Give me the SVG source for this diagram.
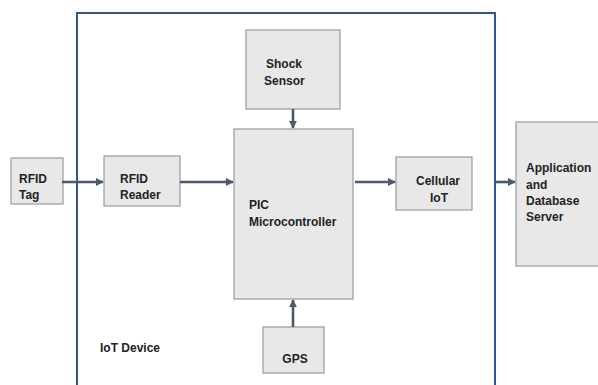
<svg xmlns="http://www.w3.org/2000/svg" width="598" height="385" viewBox="0 0 598 385">
  <style>
    .box { fill: #e8e8e8; stroke: #9a9a9a; stroke-width: 1.2; }
    .lbl { font-family: "Liberation Sans", Arial, sans-serif; font-size: 12px; font-weight: bold; fill: #222222; }
    .wire { stroke: #4a5a72; stroke-width: 2.6; fill: none; marker-end: url(#arrow); }
    .frame { stroke: #2f5597; stroke-width: 2; fill: none; }
  </style>
  <defs>
    <marker id="arrow" viewBox="0 0 10 10" refX="9" refY="5" markerWidth="3" markerHeight="3" orient="auto" markerUnits="strokeWidth">
      <path d="M0,0 L10,5 L0,10 z" fill="#4a5a72"/>
    </marker>
  </defs>
  <rect width="598" height="385" fill="#ffffff"/>

  <!-- IoT device enclosure -->
  <g id="iot-device">
    <path class="frame" d="M77,385 V13 H495 V385"/>
    <text class="lbl" x="100" y="352">IoT Device</text>
  </g>

  <g id="rfid-tag">
    <rect class="box" x="11" y="158" width="52" height="46"/>
    <text class="lbl" x="19" y="183">RFID</text>
    <text class="lbl" x="19" y="199">Tag</text>
  </g>

  <g id="rfid-reader">
    <rect class="box" x="104" y="156" width="76" height="50"/>
    <text class="lbl" x="120" y="183">RFID</text>
    <text class="lbl" x="120" y="199">Reader</text>
  </g>

  <g id="shock-sensor">
    <rect class="box" x="246" y="30" width="94" height="79"/>
    <text class="lbl" x="266" y="68">Shock</text>
    <text class="lbl" x="264" y="85">Sensor</text>
  </g>

  <g id="pic">
    <rect class="box" x="234" y="129" width="119" height="170"/>
    <text class="lbl" x="249" y="209">PIC</text>
    <text class="lbl" x="249" y="226">Microcontroller</text>
  </g>

  <g id="gps">
    <rect class="box" x="263" y="327" width="61" height="46"/>
    <text class="lbl" x="295" y="363" text-anchor="middle">GPS</text>
  </g>

  <g id="cellular">
    <rect class="box" x="396" y="157" width="76" height="53"/>
    <text class="lbl" x="438" y="185" text-anchor="middle">Cellular</text>
    <text class="lbl" x="439" y="202" text-anchor="middle">IoT</text>
  </g>

  <g id="server">
    <rect class="box" x="516" y="122" width="90" height="144"/>
    <text class="lbl" x="526" y="172">Application</text>
    <text class="lbl" x="526" y="189">and</text>
    <text class="lbl" x="526" y="205">Database</text>
    <text class="lbl" x="526" y="221">Server</text>
  </g>

  <g id="connectors">
    <line class="wire" x1="62" y1="182" x2="103" y2="182"/>
    <line class="wire" x1="180" y1="182" x2="233" y2="182"/>
    <line class="wire" x1="293" y1="109" x2="293" y2="128"/>
    <line class="wire" x1="293" y1="327" x2="293" y2="300"/>
    <line class="wire" x1="355" y1="182" x2="395" y2="182"/>
    <line class="wire" x1="496" y1="182" x2="515" y2="182"/>
  </g>
</svg>
